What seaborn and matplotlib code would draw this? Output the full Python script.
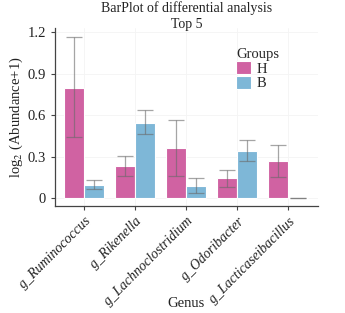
import numpy as np
import pandas as pd
import seaborn as sns
import matplotlib.pyplot as plt

genus = ['g_Ruminococcus', 'g_Rikenella', 'g_Lachnoclostridium',
         'g_Odoribacter', 'g_Lacticaseibacillus']
groups = ['H', 'B']
h_mean = [0.80, 0.231, 0.363, 0.146, 0.267]
h_low = [0.44, 0.159, 0.163, 0.084, 0.154]
h_high = [1.165, 0.305, 0.567, 0.206, 0.382]
b_mean = [0.096, 0.548, 0.091, 0.343, 0.0]
b_low = [0.065, 0.464, 0.04, 0.269, 0.0]
b_high = [0.132, 0.639, 0.149, 0.42, 0.0]
colors = ['#D062A2', '#7EB7D7']

df = pd.DataFrame({
    'Genus': genus * 2,
    'Groups': ['H'] * 5 + ['B'] * 5,
    'value': h_mean + b_mean,
    'low': h_low + b_low,
    'high': h_high + b_high,
})

sns.set_style('white')
plt.rcParams['font.family'] = ['Liberation Serif', 'DejaVu Serif']
plt.rcParams['mathtext.fontset'] = 'stix'

fig = plt.figure(figsize=(3.45, 3.13), dpi=100)
ax = fig.add_axes([0.159, 0.342, 0.763, 0.568])

sns.barplot(data=df, x='Genus', y='value', hue='Groups', hue_order=groups,
            palette=colors, saturation=1, errorbar=None, width=0.8, ax=ax,
            edgecolor='white', linewidth=0.8)

# error bars, placed at the centre of each drawn bar
for i, g in enumerate(groups):
    sub = df[df['Groups'] == g].reset_index(drop=True)
    bars = ax.containers[i]
    xs = [b.get_x() + b.get_width() / 2 for b in bars]
    yerr = np.array([sub['value'] - sub['low'], sub['high'] - sub['value']])
    ax.errorbar(xs, sub['value'], yerr=yerr, fmt='none', ecolor='#6A6A6A',
                alpha=0.6, elinewidth=0.9, capsize=6, capthick=0.9)

ax.set_ylim(-0.055, 1.23)
ax.set_xlim(-0.57, 4.59)
ax.set_yticks([0, 0.3, 0.6, 0.9, 1.2])
ax.set_yticklabels(['0', '0.3', '0.6', '0.9', '1.2'])
ax.yaxis.grid(True, color='#F4F4F4', linewidth=0.6)
ax.xaxis.grid(True, color='#F4F4F4', linewidth=0.6)
ax.set_axisbelow(True)
for s in ['top', 'right']:
    ax.spines[s].set_visible(False)
for s in ['left', 'bottom']:
    ax.spines[s].set_color('#444444')
    ax.spines[s].set_linewidth(0.9)
ax.tick_params(axis='both', length=3, width=0.8, color='#444444',
               labelsize=10.5, labelcolor='#222222', bottom=True, left=True)
ax.set_xticks(range(len(genus)))
ax.set_xticklabels(genus, rotation=45, ha='right', rotation_mode='anchor',
                   style='italic', fontsize=10)
ax.set_xlabel('Genus', fontsize=10.5, color='#222222')
ax.xaxis.set_label_coords(0.5, -0.51)
ax.set_ylabel(r'log$_2$ (Abundance+1)', fontsize=10.5, color='#222222',
              labelpad=2)
ax.set_title('BarPlot of differential analysis\nTop 5', fontsize=10,
             color='#222222', linespacing=1.3, pad=0)

leg = ax.legend(title='Groups', loc='upper left', bbox_to_anchor=(0.64, 0.96),
                frameon=False, fontsize=10.5, title_fontsize=10.5,
                handlelength=1.0, handleheight=1.0, handletextpad=0.4,
                labelspacing=0.0)
leg._legend_box.align = 'left'

fig.savefig('out.png', dpi=100)
